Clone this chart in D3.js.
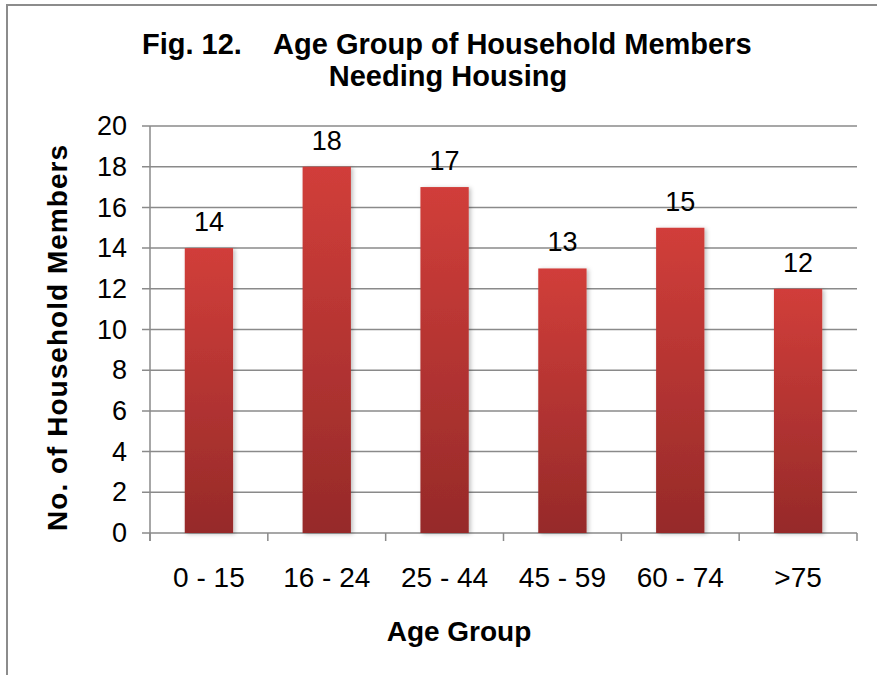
<!DOCTYPE html>
<html>
<head>
<meta charset="utf-8">
<script src="https://cdn.jsdelivr.net/npm/d3@7"></script>
<style>
  body { margin: 0; background: #fff; }
  svg { display: block; font-family: "Liberation Sans", Arial, sans-serif; }
</style>
</head>
<body>
<svg id="chart" width="877" height="675"></svg>
<script>
// chart data
const categories = ['0 - 15', '16 - 24', '25 - 44', '45 - 59', '60 - 74', '>75'];
const counts = [14, 18, 17, 13, 15, 12];
const yTicks = [0, 2, 4, 6, 8, 10, 12, 14, 16, 18, 20];
const titleLines = ['Fig. 12.    Age Group of Household Members', 'Needing Housing'];

const svg = d3.select('#chart');
const W = 877, H = 675;
const plot = { left: 150, right: 857, top: 126, bottom: 533 };

// outer frame (only top and left edges show in the picture)
svg.append('path')
  .attr('d', `M7,${H} V5 H${W}`)
  .attr('fill', 'none')
  .attr('stroke', '#8c8c8c')
  .attr('stroke-width', 2);

const defs = svg.append('defs');
const grad = defs.append('linearGradient')
  .attr('id', 'barFill')
  .attr('x1', 0).attr('y1', 0).attr('x2', 0).attr('y2', 1);
grad.append('stop').attr('offset', '0%').attr('stop-color', '#d13e3a');
grad.append('stop').attr('offset', '100%').attr('stop-color', '#962a29');

const shadow = defs.append('filter').attr('id', 'shadow')
  .attr('x', '-20%').attr('y', '-10%').attr('width', '150%').attr('height', '120%');
shadow.append('feDropShadow')
  .attr('dx', 2).attr('dy', 1).attr('stdDeviation', 2)
  .attr('flood-color', '#000').attr('flood-opacity', 0.25);

const x = d3.scaleBand()
  .domain(categories)
  .range([plot.left, plot.right])
  .paddingInner(0.59)
  .paddingOuter(0.295);

const y = d3.scaleLinear()
  .domain([0, 20])
  .range([plot.bottom, plot.top]);

// gridlines
svg.append('g')
  .selectAll('line')
  .data(yTicks)
  .join('line')
  .attr('x1', plot.left - 8)
  .attr('x2', plot.right)
  .attr('y1', d => y(d))
  .attr('y2', d => y(d))
  .attr('stroke', '#8a8a8a')
  .attr('stroke-width', 1.5);

// y axis labels
const yAxis = svg.append('g')
  .attr('transform', `translate(${plot.left},0)`)
  .call(d3.axisLeft(y).tickValues(yTicks).tickSize(0).tickPadding(23));
yAxis.select('.domain').remove();
yAxis.selectAll('text')
  .attr('font-size', 27)
  .attr('fill', '#000')
  .attr('font-family', '"Liberation Sans", Arial, sans-serif');

// y axis line
svg.append('line')
  .attr('x1', plot.left).attr('x2', plot.left)
  .attr('y1', plot.top).attr('y2', plot.bottom + 8)
  .attr('stroke', '#8a8a8a')
  .attr('stroke-width', 1.5);

// category ticks at boundaries
const bounds = categories.map(c => x(c) - x.step() * x.paddingInner() / 2).concat([plot.right]);
bounds[0] = plot.left;
svg.append('g')
  .selectAll('line')
  .data(bounds)
  .join('line')
  .attr('x1', d => d).attr('x2', d => d)
  .attr('y1', plot.bottom).attr('y2', plot.bottom + 8)
  .attr('stroke', '#8a8a8a')
  .attr('stroke-width', 1.5);

// bars
svg.append('g')
  .selectAll('rect')
  .data(counts)
  .join('rect')
  .attr('x', (d, i) => x(categories[i]))
  .attr('y', d => y(d))
  .attr('width', x.bandwidth())
  .attr('height', d => y(0) - y(d))
  .attr('fill', 'url(#barFill)')
  .attr('filter', 'url(#shadow)');

// value labels
svg.append('g')
  .selectAll('text')
  .data(counts)
  .join('text')
  .attr('x', (d, i) => x(categories[i]) + x.bandwidth() / 2)
  .attr('y', d => y(d) - 17)
  .attr('text-anchor', 'middle')
  .attr('font-size', 27)
  .text(d => d);

// category labels
svg.append('g')
  .selectAll('text')
  .data(categories)
  .join('text')
  .attr('x', d => x(d) + x.bandwidth() / 2)
  .attr('y', 587)
  .attr('text-anchor', 'middle')
  .attr('font-size', 28)
  .text(d => d);

// axis titles
svg.append('text')
  .attr('x', 459)
  .attr('y', 641)
  .attr('text-anchor', 'middle')
  .attr('font-size', 28)
  .attr('font-weight', 'bold')
  .text('Age Group');

svg.append('text')
  .attr('transform', 'translate(67,338) rotate(-90)')
  .attr('text-anchor', 'middle')
  .attr('font-size', 28)
  .attr('font-weight', 'bold')
  .attr('textLength', 386)
  .attr('lengthAdjust', 'spacing')
  .text('No. of Household Members');

// title
svg.append('g')
  .selectAll('text')
  .data(titleLines)
  .join('text')
  .attr('x', (d, i) => i === 0 ? 142 : 448)
  .attr('y', (d, i) => 54 + i * 32)
  .attr('text-anchor', (d, i) => i === 0 ? 'start' : 'middle')
  .attr('font-size', 29)
  .attr('font-weight', 'bold')
  .attr('xml:space', 'preserve')
  .style('white-space', 'pre')
  .text(d => d);
</script>
</body>
</html>
